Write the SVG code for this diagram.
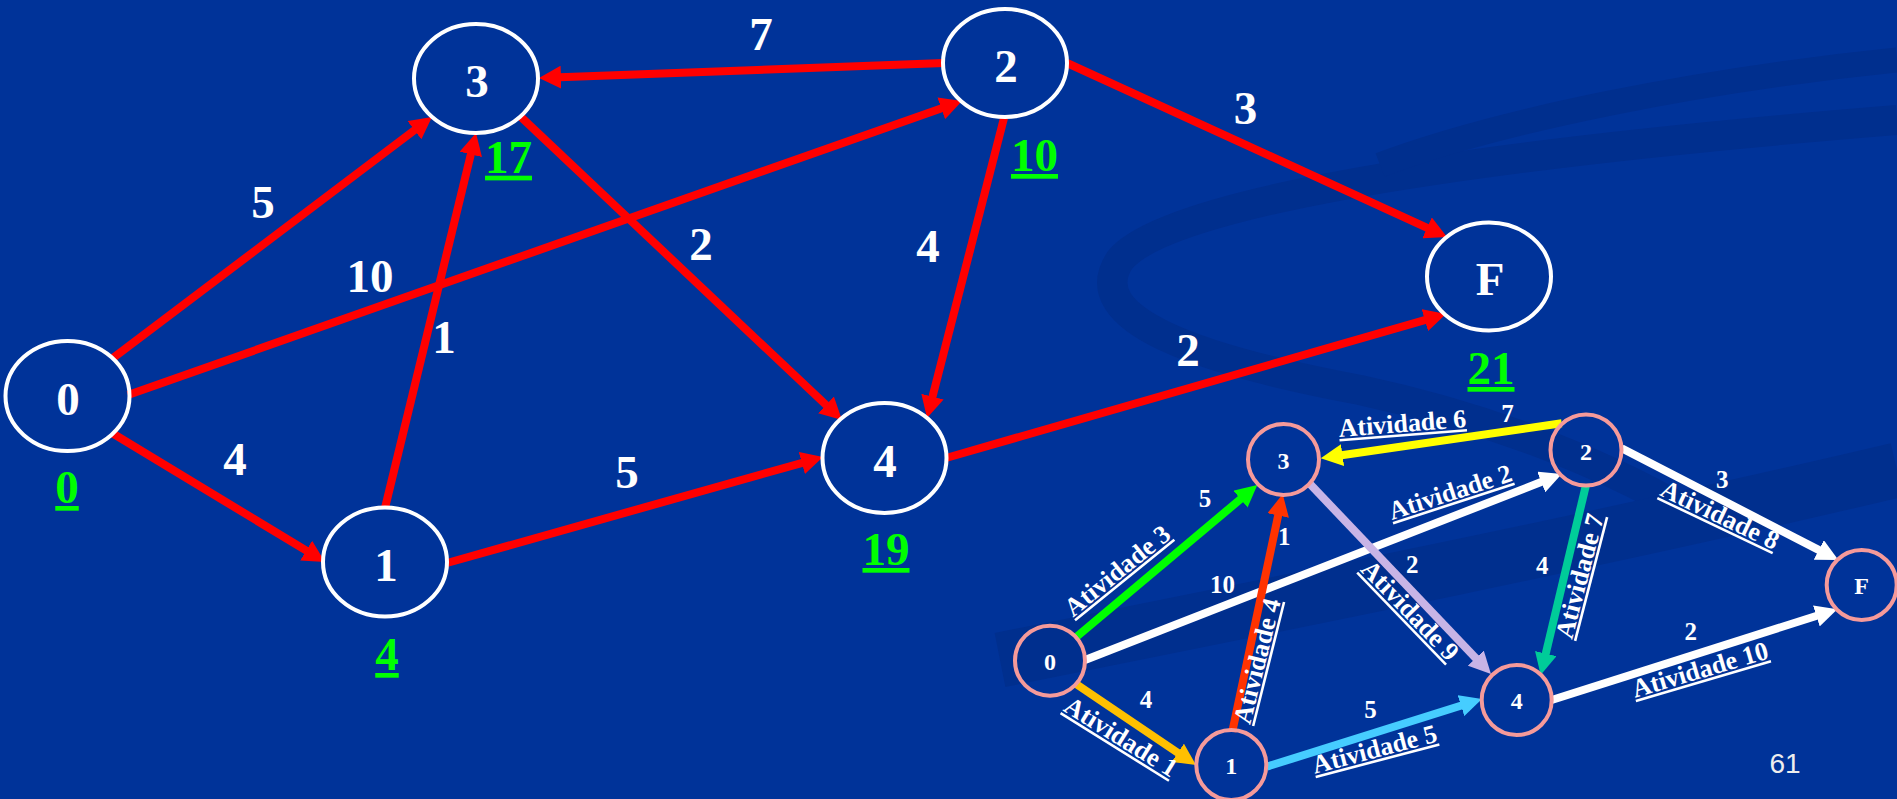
<svg xmlns="http://www.w3.org/2000/svg" width="1897" height="799" viewBox="0 0 1897 799">
<style>
.bgc{fill:#003399}
.sw{fill:none;stroke:#002F8E}
.bn{fill:none;stroke:#FFFFFF;stroke-width:4}
.sn{fill:none;stroke:#F59A9A;stroke-width:4}
.t{font-family:"Liberation Serif","Times New Roman",serif;font-weight:bold;fill:#FFFFFF;text-anchor:middle}
.b{font-size:47px}
.g{font-size:47px;fill:#00FF00;text-decoration:underline;text-decoration-thickness:3.5px;text-underline-offset:6px}
.s{font-size:25px}
.sl{font-size:24px}
.a{font-size:26px;text-decoration:underline;text-decoration-thickness:2px;text-underline-offset:4px}
.e{fill:none;stroke-width:8;stroke-linecap:butt}
.red{stroke:#FF0000}
</style>
<defs>
<marker id="mRed" markerUnits="userSpaceOnUse" markerWidth="22" markerHeight="23" refX="8" refY="11.5" orient="auto"><path d="M0,0 L22,11.5 L0,23 Z" fill="#FF0000"/></marker>
<marker id="mWhite" markerUnits="userSpaceOnUse" markerWidth="22" markerHeight="22" refX="8" refY="11" orient="auto"><path d="M0,0 L22,11 L0,22 Z" fill="#FFFFFF"/></marker>
<marker id="mGreen" markerUnits="userSpaceOnUse" markerWidth="22" markerHeight="22" refX="8" refY="11" orient="auto"><path d="M0,0 L22,11 L0,22 Z" fill="#00FF00"/></marker>
<marker id="mOrange" markerUnits="userSpaceOnUse" markerWidth="22" markerHeight="22" refX="8" refY="11" orient="auto"><path d="M0,0 L22,11 L0,22 Z" fill="#FFC000"/></marker>
<marker id="mRedOr" markerUnits="userSpaceOnUse" markerWidth="22" markerHeight="22" refX="8" refY="11" orient="auto"><path d="M0,0 L22,11 L0,22 Z" fill="#FF3300"/></marker>
<marker id="mLav" markerUnits="userSpaceOnUse" markerWidth="22" markerHeight="22" refX="8" refY="11" orient="auto"><path d="M0,0 L22,11 L0,22 Z" fill="#C8B4E6"/></marker>
<marker id="mBlue" markerUnits="userSpaceOnUse" markerWidth="22" markerHeight="22" refX="8" refY="11" orient="auto"><path d="M0,0 L22,11 L0,22 Z" fill="#46CDFF"/></marker>
<marker id="mYellow" markerUnits="userSpaceOnUse" markerWidth="22" markerHeight="22" refX="8" refY="11" orient="auto"><path d="M0,0 L22,11 L0,22 Z" fill="#FFFF00"/></marker>
<marker id="mTeal" markerUnits="userSpaceOnUse" markerWidth="22" markerHeight="22" refX="8" refY="11" orient="auto"><path d="M0,0 L22,11 L0,22 Z" fill="#00CC99"/></marker>
</defs>

<rect class="bgc" x="0" y="0" width="1897" height="799"/>
<g id="background-swooshes">
<path class="sw" stroke-width="30" d="M1897,120 C1650,140 1180,185 1120,260 C1080,320 1200,360 1360,390 C1500,420 1620,470 1700,520"/>
<path class="sw" stroke-width="55" d="M1000,660 C1300,600 1600,540 1897,470"/>
<path class="sw" stroke-width="25" d="M1897,60 C1700,80 1500,120 1380,165"/>
</g>

<g id="connectors">
<!-- main graph -->
<line class="e red" x1="113" y1="358" x2="420.8" y2="125.4" marker-end="url(#mRed)"/>
<line class="e red" x1="128" y1="395" x2="948.8" y2="105.7" marker-end="url(#mRed)"/>
<line class="e red" x1="112" y1="433" x2="313" y2="554.7" marker-end="url(#mRed)"/>
<line class="e red" x1="385" y1="508" x2="472.7" y2="146.6" marker-end="url(#mRed)"/>
<line class="e red" x1="447" y1="563" x2="809.5" y2="460.8" marker-end="url(#mRed)"/>
<line class="e red" x1="521" y1="117" x2="831.8" y2="410.4" marker-end="url(#mRed)"/>
<line class="e red" x1="944" y1="63" x2="553" y2="77.5" marker-end="url(#mRed)"/>
<line class="e red" x1="1004" y1="118" x2="930.5" y2="404.4" marker-end="url(#mRed)"/>
<line class="e red" x1="1067" y1="63" x2="1434.3" y2="231.2" marker-end="url(#mRed)"/>
<line class="e red" x1="946" y1="458" x2="1432.5" y2="317.9" marker-end="url(#mRed)"/>
<!-- small graph -->
<line class="e" stroke="#00FF00" x1="1076" y1="637.3" x2="1246.6" y2="494" marker-end="url(#mGreen)"/>
<line class="e" stroke="#FFFFFF" x1="1085" y1="660" x2="1548.7" y2="479.1" marker-end="url(#mWhite)"/>
<line class="e" stroke="#FFC000" x1="1075" y1="683.3" x2="1184.4" y2="757.2" marker-end="url(#mOrange)"/>
<line class="e" stroke="#FF3300" x1="1232.3" y1="731.7" x2="1279.8" y2="507.7" marker-end="url(#mRedOr)"/>
<line class="e" stroke="#C8B4E6" x1="1309.3" y1="483.3" x2="1481.3" y2="663.9" marker-end="url(#mLav)"/>
<line class="e" stroke="#46CDFF" x1="1266.7" y1="766.7" x2="1468.6" y2="703.2" marker-end="url(#mBlue)"/>
<line class="e" stroke="#FFFF00" x1="1561.7" y1="423.3" x2="1334.6" y2="456.3" marker-end="url(#mYellow)"/>
<line class="e" stroke="#00CC99" x1="1586" y1="485" x2="1543.9" y2="661.4" marker-end="url(#mTeal)"/>
<line class="e" stroke="#FFFFFF" x1="1621.7" y1="448.3" x2="1825.9" y2="553.6" marker-end="url(#mWhite)"/>
<line class="e" stroke="#FFFFFF" x1="1551.7" y1="700" x2="1824" y2="613.5" marker-end="url(#mWhite)"/>
</g>

<g id="edge-labels">
<text class="t b" x="761" y="50">7</text>
<text class="t b" x="263" y="218">5</text>
<text class="t b" x="370" y="292">10</text>
<text class="t b" x="444" y="353">1</text>
<text class="t b" x="701" y="260">2</text>
<text class="t b" x="928" y="262">4</text>
<text class="t b" x="1245.5" y="124">3</text>
<text class="t b" x="1188" y="366">2</text>
<text class="t b" x="235" y="475">4</text>
<text class="t b" x="627" y="488">5</text>

<text class="t s" x="1507.5" y="421.7">7</text>
<text class="t s" x="1205" y="506.7">5</text>
<text class="t s" x="1222.5" y="592.7">10</text>
<text class="t s" x="1146" y="708.3">4</text>
<text class="t s" x="1284.3" y="545">1</text>
<text class="t s" x="1412.2" y="572.7">2</text>
<text class="t s" x="1722.3" y="488.3">3</text>
<text class="t s" x="1542.2" y="574">4</text>
<text class="t s" x="1690.8" y="640">2</text>
<text class="t s" x="1370.5" y="718.3">5</text>

<text class="t a" transform="translate(1403,432) rotate(-4.5)">Atividade 6</text>
<text class="t a" transform="translate(1122.6,577.4) rotate(-39)">Atividade 3</text>
<text class="t a" transform="translate(1116.5,744.1) rotate(32)">Atividade 1</text>
<text class="t a" transform="translate(1265.4,663.2) rotate(-76)">Atividade 4</text>
<text class="t a" transform="translate(1404,616.3) rotate(46)">Atividade 9</text>
<text class="t a" transform="translate(1452.8,500.3) rotate(-18)">Atividade 2</text>
<text class="t a" transform="translate(1716.4,522.6) rotate(25.5)">Atividade 8</text>
<text class="t a" transform="translate(1587.9,578.2) rotate(-75.5)">Atividade 7</text>
<text class="t a" transform="translate(1702.5,677.9) rotate(-16.4)">Atividade 10</text>
<text class="t a" transform="translate(1376.7,757.5) rotate(-14.7)">Atividade 5</text>
</g>

<g id="node-0"><ellipse class="bn" cx="67.5" cy="396" rx="62" ry="55"/><text class="t b" x="68" y="415">0</text><text class="t g" x="67" y="503">0</text></g>
<g id="node-1"><ellipse class="bn" cx="385" cy="562" rx="62" ry="54.5"/><text class="t b" x="386" y="581">1</text><text class="t g" x="387" y="670">4</text></g>
<g id="node-3"><ellipse class="bn" cx="476" cy="78.5" rx="62" ry="54.5"/><text class="t b" x="477" y="97">3</text><text class="t g" x="508.5" y="172.7">17</text></g>
<g id="node-2"><ellipse class="bn" cx="1005" cy="63" rx="62" ry="54"/><text class="t b" x="1006" y="82">2</text><text class="t g" x="1034.5" y="171">10</text></g>
<g id="node-4"><ellipse class="bn" cx="884.5" cy="458" rx="62" ry="55"/><text class="t b" x="885" y="477">4</text><text class="t g" x="886" y="565">19</text></g>
<g id="node-F"><ellipse class="bn" cx="1489" cy="276.5" rx="62" ry="54"/><text class="t b" x="1490" y="295">F</text><text class="t g" x="1491" y="384">21</text></g>

<g id="small-node-0"><circle class="sn" cx="1050" cy="660.7" r="35"/><text class="t sl" x="1050" y="669.5">0</text></g>
<g id="small-node-1"><circle class="sn" cx="1231.3" cy="765" r="35"/><text class="t sl" x="1231.3" y="774">1</text></g>
<g id="small-node-3"><circle class="sn" cx="1283.5" cy="459.5" r="35.5"/><text class="t sl" x="1283.5" y="468.5">3</text></g>
<g id="small-node-2"><circle class="sn" cx="1586" cy="450" r="35.5"/><text class="t sl" x="1586" y="460">2</text></g>
<g id="small-node-4"><circle class="sn" cx="1516.7" cy="700" r="35"/><text class="t sl" x="1516.7" y="709">4</text></g>
<g id="small-node-F"><circle class="sn" cx="1861.7" cy="585" r="35"/><text class="t sl" x="1861.7" y="594">F</text></g>

<text x="1785" y="773" font-family="'Liberation Sans',Arial,sans-serif" font-size="28" fill="#EEEEEE" text-anchor="middle">61</text>
</svg>
